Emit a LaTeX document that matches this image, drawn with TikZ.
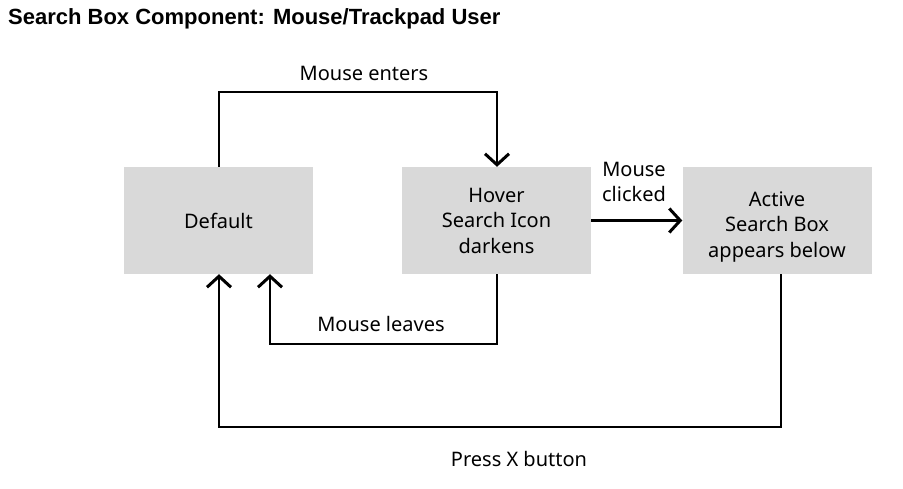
\documentclass[tikz,border=0pt]{standalone}
\usepackage{fontspec}
\setmainfont{Noto Sans}
\newfontfamily\titlefont{Liberation Sans}
\usetikzlibrary{arrows.meta}
\definecolor{boxgray}{HTML}{D9D9D9}
\tikzset{
  statebox/.style={fill=boxgray, minimum width=189pt, minimum height=107pt, inner sep=0pt, align=center, font=\fontsize{20pt}{25.5pt}\selectfont},
  lbl/.style={font=\fontsize{20pt}{25.5pt}\selectfont, align=center, inner sep=0pt},
  conn/.style={line width=2pt, -{Straight Barb[length=11pt,width=24pt,line width=3pt]}},
}
\begin{document}
\begin{tikzpicture}[x=1pt,y=-1pt]
\useasboundingbox (0,0) rectangle (903,488);
\node[anchor=west, font=\titlefont\bfseries\fontsize{22pt}{24pt}\selectfont, inner sep=0pt] (title) at (8,19) {Search Box Component: Mouse/Trackpad User};
\node[statebox] (def) at (218.5,220.5) {Default};
\node[statebox] (hov) at (496.5,220.5) {Hover\\Search Icon\\darkens};
\node[statebox] (act) at (777,220.5) {};
\node[lbl] (acttxt) at (777,227) {Active\\Search Box\\appears below};
\coordinate (e1) at (219,92);
\coordinate (e2) at (497,92);
\coordinate (l1) at (497,344);
\coordinate (l2) at (270,344);
\coordinate (p1) at (781,427);
\coordinate (p2) at (219,427);
\draw[conn] (def.north -| e1) -- (e1) -- (e2) -- (hov.north -| e2);
\draw[conn] (hov.south -| l1) -- (l1) -- (l2) -- (def.south -| l2);
\draw[conn, line width=3pt] (hov.east) -- (act.west);
\draw[conn] (act.south -| p1) -- (p1) -- (p2) -- (def.south -| p2);
\node[lbl] (lenter) at (364,73) {Mouse enters};
\node[lbl] (lleave) at (381,324) {Mouse leaves};
\node[lbl] (lclick) at (634,182) {Mouse\\clicked};
\node[lbl] (lpress) at (519,459) {Press X button};
\end{tikzpicture}
\end{document}
